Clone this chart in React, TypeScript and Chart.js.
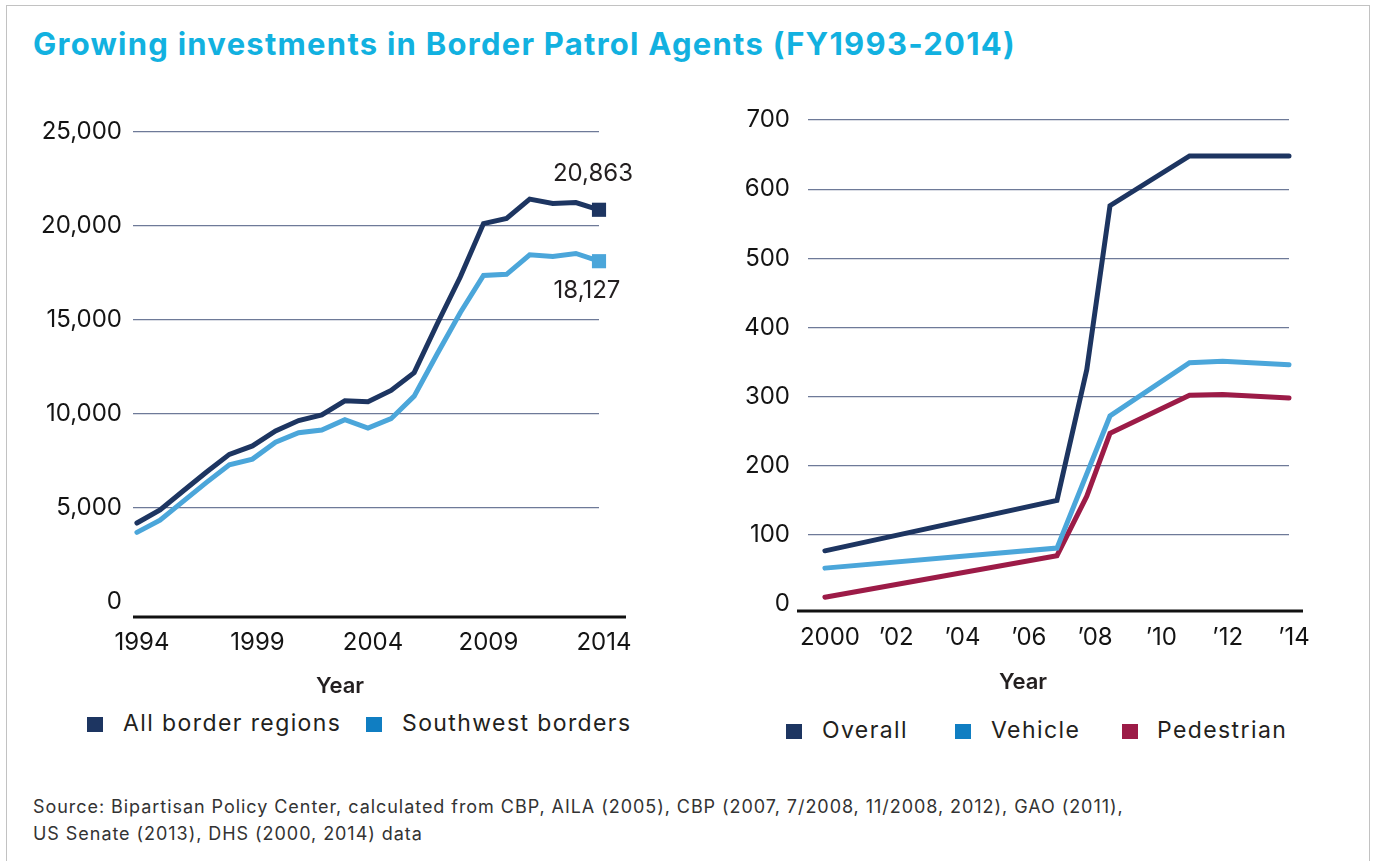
import React, { useEffect, useRef } from 'react';
import { Chart, registerables } from 'chart.js';

Chart.register(...registerables);

const FONT = 'Inter, "Noto Sans", sans-serif';
const NAVY = '#1D3561';
const SKY = '#4BA6DA';
const LEGEND_BLUE = '#107EC2';
const CRIMSON = '#9C1B47';
const GRID = '#6E7A98';
const TEXT = '#141414';

// ---- Left chart: Border Patrol agents ----
const leftYears = [1994, 1995, 1996, 1997, 1998, 1999, 2000, 2001, 2002, 2003, 2004, 2005, 2006, 2007, 2008, 2009, 2010, 2011, 2012, 2013, 2014];
const allBorderRegions = [4200, 4900, 5900, 6900, 7850, 8300, 9100, 9650, 9950, 10700, 10650, 11250, 12200, 14800, 17300, 20130, 20400, 21430, 21200, 21250, 20863];
const southwestBorders = [3700, 4350, 5350, 6350, 7300, 7600, 8500, 9000, 9150, 9700, 9250, 9750, 10950, 13200, 15400, 17370, 17430, 18470, 18380, 18540, 18127];
const leftXTicks = [1994, 1999, 2004, 2009, 2014];
const leftYTicks = [0, 5000, 10000, 15000, 20000, 25000];
const leftLegend = ['All border regions', 'Southwest borders'];

// ---- Right chart: fencing (miles) ----
const rightYears = [2000, 2007, 2007.9, 2008.6, 2011, 2012, 2014];
const overall = [77, 150, 339, 576, 648, 648, 648];
const vehicle = [52, 81, null, 272, 349, 351, 346];
const pedestrian = [10, 70, 156, 247, 302, 303, 298];
const rightXTicks = [2000, 2002, 2004, 2006, 2008, 2010, 2012, 2014];
const rightXTickLabels = ['2000', '\u201902', '\u201904', '\u201906', '\u201908', '\u201910', '\u201912', '\u201914'];
const rightYTicks = [0, 100, 200, 300, 400, 500, 600, 700];
const rightLegend = ['Overall', 'Vehicle', 'Pedestrian'];

const TITLE = 'Growing investments in Border Patrol Agents (FY1993-2014)';
const SOURCE_1 = 'Source: Bipartisan Policy Center, calculated from CBP, AILA (2005), CBP (2007, 7/2008, 11/2008, 2012), GAO (2011),';
const SOURCE_2 = 'US Senate (2013), DHS (2000, 2014) data';

const toXY = (xs: number[], ys: (number | null)[]) => xs.map((x, i) => ({ x, y: ys[i] }));

const axisLine = (extL: number, extR: number) => ({
  id: 'axisLine',
  afterDraw(chart: any) {
    const { ctx, chartArea } = chart;
    ctx.save();
    ctx.strokeStyle = '#111111';
    ctx.lineWidth = 3;
    ctx.beginPath();
    ctx.moveTo(chartArea.left + extL, chartArea.bottom);
    ctx.lineTo(chartArea.right + extR, chartArea.bottom);
    ctx.stroke();
    ctx.restore();
  },
});

const endLabels = (specs: { dataset: number; dx: number; dy: number }[]) => ({
  id: 'endLabels',
  afterDatasetsDraw(chart: any) {
    const ctx = chart.ctx;
    ctx.save();
    ctx.font = `400 24px ${FONT}`;
    ctx.fillStyle = '#231F20';
    ctx.textAlign = 'center';
    ctx.textBaseline = 'middle';
    specs.forEach((s) => {
      const meta = chart.getDatasetMeta(s.dataset);
      const data = chart.data.datasets[s.dataset].data as { x: number; y: number }[];
      const pt = meta.data[meta.data.length - 1];
      const v = data[data.length - 1].y;
      ctx.fillText(v.toLocaleString('en-US'), pt.x + s.dx, pt.y + s.dy);
    });
    ctx.restore();
  },
});

const tickFont = { family: FONT, size: 24, weight: 400 as const };

function lineDataset(label: string, data: any[], color: string, endMarker: boolean) {
  const n = data.length;
  return {
    label,
    data,
    borderColor: color,
    backgroundColor: color,
    borderWidth: 5,
    borderCapStyle: 'round' as const,
    borderJoinStyle: 'miter' as const,
    tension: 0,
    clip: false as const,
    spanGaps: true,
    pointStyle: 'rect' as const,
    pointRadius: (c: any) => (endMarker && c.dataIndex === n - 1 ? 10 : 0),
    pointBorderWidth: 0,
    pointBackgroundColor: color,
  };
}

function LeftChart() {
  const ref = useRef<HTMLCanvasElement>(null);
  useEffect(() => {
    const chart = new Chart(ref.current!, {
      type: 'line',
      data: {
        datasets: [
          lineDataset(leftLegend[0], toXY(leftYears, allBorderRegions), NAVY, true),
          lineDataset(leftLegend[1], toXY(leftYears, southwestBorders), SKY, true),
        ],
      },
      options: {
        animation: false,
        responsive: false,
        layout: { padding: { top: 32, right: 101, left: 0, bottom: 0 } },
        plugins: { legend: { display: false }, tooltip: { enabled: false } },
        scales: {
          x: {
            type: 'linear',
            min: 1993.83,
            max: 2014,
            afterBuildTicks: (s: any) => {
              s.ticks = leftXTicks.map((value) => ({ value }));
            },
            afterFit: (s: any) => {
              s.height = 63;
            },
            grid: { display: false, drawTicks: false },
            border: { display: false },
            ticks: {
              autoSkip: false,
              maxRotation: 0,
              padding: 11,
              labelOffset: 5,
              font: tickFont,
              color: TEXT,
              callback: (v: any) => String(v),
            },
          },
          y: {
            type: 'linear',
            min: -800,
            max: 25000,
            afterBuildTicks: (s: any) => {
              s.ticks = leftYTicks.map((value) => ({ value }));
            },
            afterFit: (s: any) => {
              s.width = 133;
            },
            grid: {
              drawTicks: false,
              lineWidth: 1.3,
              color: (c: any) => (c.tick && c.tick.value === 0 ? 'rgba(0,0,0,0)' : GRID),
            },
            border: { display: false },
            ticks: {
              padding: 11,
              font: tickFont,
              color: TEXT,
              callback: (v: any) => Number(v).toLocaleString('en-US'),
            },
          },
        },
      } as any,
      plugins: [
        axisLine(0, 27),
        endLabels([
          { dataset: 0, dx: -6, dy: -36 },
          { dataset: 1, dx: -12, dy: 30 },
        ]),
      ],
    });
    return () => chart.destroy();
  }, []);
  return (
    <canvas
      ref={ref}
      width={700}
      height={580}
      style={{ position: 'absolute', left: 0, top: 100, width: 700, height: 580 }}
    />
  );
}

function RightChart() {
  const ref = useRef<HTMLCanvasElement>(null);
  useEffect(() => {
    const chart = new Chart(ref.current!, {
      type: 'line',
      data: {
        datasets: [
          lineDataset(rightLegend[0], toXY(rightYears, overall), NAVY, false),
          lineDataset(rightLegend[1], toXY(rightYears, vehicle), SKY, false),
          lineDataset(rightLegend[2], toXY(rightYears, pedestrian), CRIMSON, false),
        ],
      },
      options: {
        animation: false,
        responsive: false,
        layout: { padding: { top: 40, right: 87, left: 0, bottom: 0 } },
        plugins: { legend: { display: false }, tooltip: { enabled: false } },
        scales: {
          x: {
            type: 'linear',
            min: 1999.49,
            max: 2014,
            afterBuildTicks: (s: any) => {
              s.ticks = rightXTicks.map((value) => ({ value }));
            },
            afterFit: (s: any) => {
              s.height = 69;
            },
            grid: { display: false, drawTicks: false },
            border: { display: false },
            ticks: {
              autoSkip: false,
              maxRotation: 0,
              padding: 12,
              labelOffset: 5,
              font: tickFont,
              color: TEXT,
              callback: (_v: any, i: number) => rightXTickLabels[i],
            },
          },
          y: {
            type: 'linear',
            min: -10,
            max: 700,
            afterBuildTicks: (s: any) => {
              s.ticks = rightYTicks.map((value) => ({ value }));
            },
            afterFit: (s: any) => {
              s.width = 108;
            },
            grid: {
              drawTicks: false,
              lineWidth: 1.3,
              color: (c: any) => (c.tick && c.tick.value === 0 ? 'rgba(0,0,0,0)' : GRID),
            },
            border: { display: false },
            ticks: {
              padding: 18,
              font: tickFont,
              color: TEXT,
              callback: (v: any) => String(v),
            },
          },
        },
      } as any,
      plugins: [axisLine(-11, 14)],
    });
    return () => chart.destroy();
  }, []);
  return (
    <canvas
      ref={ref}
      width={676}
      height={600}
      style={{ position: 'absolute', left: 700, top: 80, width: 676, height: 600 }}
    />
  );
}

const textBase: React.CSSProperties = {
  position: 'absolute',
  fontFamily: FONT,
  whiteSpace: 'nowrap',
  margin: 0,
};

function LegendItem({ x, y, color, label, textX }: { x: number; y: number; color: string; label: string; textX: number }) {
  return (
    <>
      <div style={{ position: 'absolute', left: x, top: y + 5, width: 16, height: 15, background: color }} />
      <div
        style={{
          ...textBase,
          left: textX,
          top: y,
          fontSize: 23,
          lineHeight: '23px',
          letterSpacing: '1.4px',
          color: '#231F20',
        }}
      >
        {label}
      </div>
    </>
  );
}

export default function App() {
  return (
    <div
      style={{
        position: 'absolute',
        left: 0,
        top: 0,
        width: 1376,
        height: 861,
        background: '#ffffff',
        overflow: 'hidden',
      }}
    >
      <div
        style={{
          position: 'absolute',
          left: 6,
          top: 5,
          width: 1362,
          height: 900,
          border: '1.5px solid #C2C2C2',
        }}
      />
      <div
        style={{
          ...textBase,
          left: 33,
          top: 28,
          fontSize: 31,
          lineHeight: '31px',
          fontWeight: 700,
          letterSpacing: '1.25px',
          color: '#12B1E0',
        }}
      >
        {TITLE}
      </div>

      <LeftChart />
      <RightChart />

      <div style={{ ...textBase, left: 290, top: 674, width: 100, textAlign: 'center', fontSize: 22, lineHeight: '22px', fontWeight: 600, color: '#231F20' }}>
        Year
      </div>
      <div style={{ ...textBase, left: 973, top: 670, width: 100, textAlign: 'center', fontSize: 22, lineHeight: '22px', fontWeight: 600, color: '#231F20' }}>
        Year
      </div>

      <LegendItem x={87} y={712} color={NAVY} label={leftLegend[0]} textX={123} />
      <LegendItem x={366} y={712} color={LEGEND_BLUE} label={leftLegend[1]} textX={402} />

      <LegendItem x={786} y={719} color={NAVY} label={rightLegend[0]} textX={822} />
      <LegendItem x={955} y={719} color={LEGEND_BLUE} label={rightLegend[1]} textX={991} />
      <LegendItem x={1122} y={719} color={CRIMSON} label={rightLegend[2]} textX={1157} />

      <div
        style={{
          ...textBase,
          left: 33,
          top: 793,
          fontSize: 18,
          lineHeight: '27px',
          letterSpacing: '0.95px',
          color: '#333333',
        }}
      >
        {SOURCE_1}
        <br />
        {SOURCE_2}
      </div>
    </div>
  );
}
